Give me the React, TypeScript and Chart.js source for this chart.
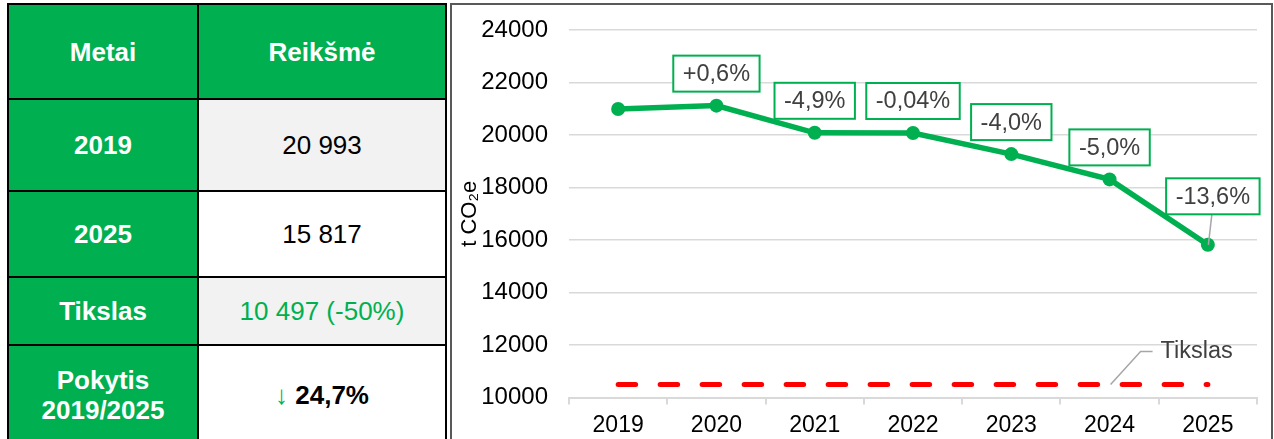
import React, { useEffect, useRef } from "react";
import { Chart, registerables } from "chart.js";

Chart.register(...registerables);

const FONT = "'Liberation Sans', Arial, Helvetica, sans-serif";

// ---- chart data ----
const years = ["2019", "2020", "2021", "2022", "2023", "2024", "2025"];
const emissions = [20993, 21119, 20084, 20076, 19273, 18309, 15817];
const target = [10497, 10497, 10497, 10497, 10497, 10497, 10497];
const changeLabels = ["", "+0,6%", "-4,9%", "-0,04%", "-4,0%", "-5,0%", "-13,6%"];
const targetLabel = "Tikslas";
const yMin = 10000;
const yMax = 24000;
const yStep = 2000;
const yTitle = "t CO\u2082e";

// ---- table data ----
const tableHeader = ["Metai", "Reikšmė"];
const tableRowLabels = ["2019", "2025", "Tikslas", "Pokytis\n2019/2025"];
const tableRowValues = ["20 993", "15 817", "10 497 (-50%)", "24,7%"];

const GREEN = "#00B050";

const labelPlugin = {
  id: "changeLabels",
  afterDatasetsDraw(chart: any) {
    const ctx = chart.ctx as CanvasRenderingContext2D;
    const meta = chart.getDatasetMeta(0);
    const tmeta = chart.getDatasetMeta(1);
    ctx.save();
    ctx.font = `23.5px ${FONT}`;
    ctx.textAlign = "center";
    ctx.textBaseline = "middle";
    changeLabels.forEach((txt, i) => {
      if (!txt) return;
      const pt = meta.data[i];
      const last = i === changeLabels.length - 1;
      const w = ctx.measureText(txt).width + 19;
      const h = 36;
      const cx = pt.x + (last ? 5 : 0);
      const bottom = pt.y - (last ? 30.5 : 14);
      if (last) {
        ctx.strokeStyle = "#A6A6A6";
        ctx.lineWidth = 1.5;
        ctx.beginPath();
        ctx.moveTo(cx - 1, bottom);
        ctx.lineTo(pt.x + 0.5, pt.y);
        ctx.stroke();
      }
      ctx.fillStyle = "#FFFFFF";
      ctx.fillRect(cx - w / 2, bottom - h, w, h);
      ctx.strokeStyle = GREEN;
      ctx.lineWidth = 2;
      ctx.strokeRect(cx - w / 2, bottom - h, w, h);
      ctx.fillStyle = "#404040";
      ctx.fillText(txt, cx, bottom - h / 2 + 1);
    });
    // target label with leader line
    const tp = tmeta.data[5];
    ctx.strokeStyle = "#A6A6A6";
    ctx.lineWidth = 1.5;
    ctx.beginPath();
    ctx.moveTo(tp.x + 1, tp.y);
    ctx.lineTo(tp.x + 31, tp.y - 33);
    ctx.lineTo(tp.x + 43, tp.y - 33);
    ctx.stroke();
    ctx.textAlign = "left";
    ctx.fillStyle = "#404040";
    ctx.fillText(targetLabel, tp.x + 51, tp.y - 33);
    ctx.restore();
  },
};

function LineChart() {
  const ref = useRef<HTMLCanvasElement | null>(null);
  useEffect(() => {
    if (!ref.current) return;
    Chart.defaults.font.family = FONT;
    const chart = new Chart(ref.current, {
      type: "line",
      data: {
        labels: years,
        datasets: [
          {
            data: emissions,
            borderColor: GREEN,
            backgroundColor: GREEN,
            borderWidth: 5.5,
            pointRadius: 7,
            pointBackgroundColor: GREEN,
            pointBorderWidth: 0,
            tension: 0,
          },
          {
            data: target,
            borderColor: "#FF0000",
            borderWidth: 5,
            borderDash: [17.5, 24.5],
            borderCapStyle: "round",
            pointRadius: 0,
            tension: 0,
          },
        ],
      },
      options: {
        animation: false,
        responsive: false,
        maintainAspectRatio: false,
        layout: { padding: { top: 25, right: 12, left: 0, bottom: 0 } },
        plugins: { legend: { display: false }, tooltip: { enabled: false } },
        scales: {
          x: {
            offset: true,
            grid: {
              display: true,
              drawOnChartArea: false,
              drawTicks: true,
              tickLength: 7,
              color: "#D9D9D9",
              lineWidth: 2,
              offset: true,
            },
            border: { display: true, color: "#D9D9D9", width: 2 },
            ticks: { color: "#000", font: { size: 23, family: FONT }, padding: 7, maxRotation: 0 },
            afterFit: (s: any) => {
              s.height = 41.5;
              s.paddingLeft = 0;
              s.paddingRight = 0;
            },
          },
          y: {
            min: yMin,
            max: yMax,
            ticks: {
              stepSize: yStep,
              color: "#000",
              font: { size: 24, family: FONT },
              padding: 21,
              callback: (v: any) => String(v),
            },
            grid: { color: "#D9D9D9", lineWidth: 1.5, drawTicks: false },
            border: { display: false },
            title: {
              display: true,
              text: yTitle,
              color: "#000",
              font: { size: 22, family: FONT },
              padding: { top: 5, bottom: 0 },
            },
            afterFit: (s: any) => {
              s.width = 117;
              s.paddingTop = 0;
              s.paddingBottom = 0;
            },
          },
        },
      },
      plugins: [labelPlugin],
    } as any);
    return () => chart.destroy();
  }, []);
  return (
    <canvas
      ref={ref}
      width={817}
      height={434}
      style={{ position: "absolute", left: 452, top: 5, width: 817, height: 434 }}
    />
  );
}

const rowTops = [100, 192, 278, 346];
const rowHeights = [90, 84, 66, 98];
const valueBgs = ["#F2F2F2", "#FFFFFF", "#F2F2F2", "#FFFFFF"];

function Cell(props: { left: number; top: number; width: number; height: number; bg: string; children?: any; style?: any }) {
  return (
    <div
      style={{
        position: "absolute",
        left: props.left,
        top: props.top,
        width: props.width,
        height: props.height,
        background: props.bg,
        display: "flex",
        alignItems: "center",
        justifyContent: "center",
        textAlign: "center",
        fontSize: 26,
        lineHeight: "30px",
        whiteSpace: "pre-line",
        ...(props.style || {}),
      }}
    >
      {props.children}
    </div>
  );
}

export default function App() {
  useEffect(() => {
    document.body.style.margin = "0";
  }, []);
  const whiteBold = { color: "#FFFFFF", fontWeight: "bold" };
  return (
    <div
      style={{
        position: "fixed",
        left: 0,
        top: 0,
        width: 1274,
        height: 439,
        overflow: "hidden",
        background: "#FFFFFF",
        fontFamily: FONT,
      }}
    >
      {/* table frame */}
      <div style={{ position: "absolute", left: 7, top: 3, width: 440, height: 460, background: "#000" }} />
      <Cell left={9} top={5} width={188} height={93} bg={GREEN} style={whiteBold}>
        {tableHeader[0]}
      </Cell>
      <Cell left={199} top={5} width={246} height={93} bg={GREEN} style={whiteBold}>
        {tableHeader[1]}
      </Cell>
      {tableRowLabels.map((lab, i) => (
        <Cell key={"l" + i} left={9} top={rowTops[i]} width={188} height={rowHeights[i]} bg={GREEN} style={whiteBold}>
          {lab}
        </Cell>
      ))}
      {tableRowValues.map((val, i) => {
        const isTarget = i === 2;
        const isChange = i === 3;
        return (
          <Cell
            key={"v" + i}
            left={199}
            top={rowTops[i]}
            width={246}
            height={rowHeights[i]}
            bg={valueBgs[i]}
            style={{ color: isTarget ? GREEN : "#000" }}
          >
            {isChange ? (
              <span>
                <span style={{ color: GREEN }}>{"\u2193"}</span>{" "}
                <span style={{ fontWeight: "bold" }}>{val}</span>
              </span>
            ) : (
              val
            )}
          </Cell>
        );
      })}
      {/* chart frame */}
      <div
        style={{
          position: "absolute",
          left: 450,
          top: 3,
          width: 823,
          height: 460,
          border: "2px solid #595959",
          boxSizing: "border-box",
          background: "#FFFFFF",
        }}
      />
      <LineChart />
    </div>
  );
}
